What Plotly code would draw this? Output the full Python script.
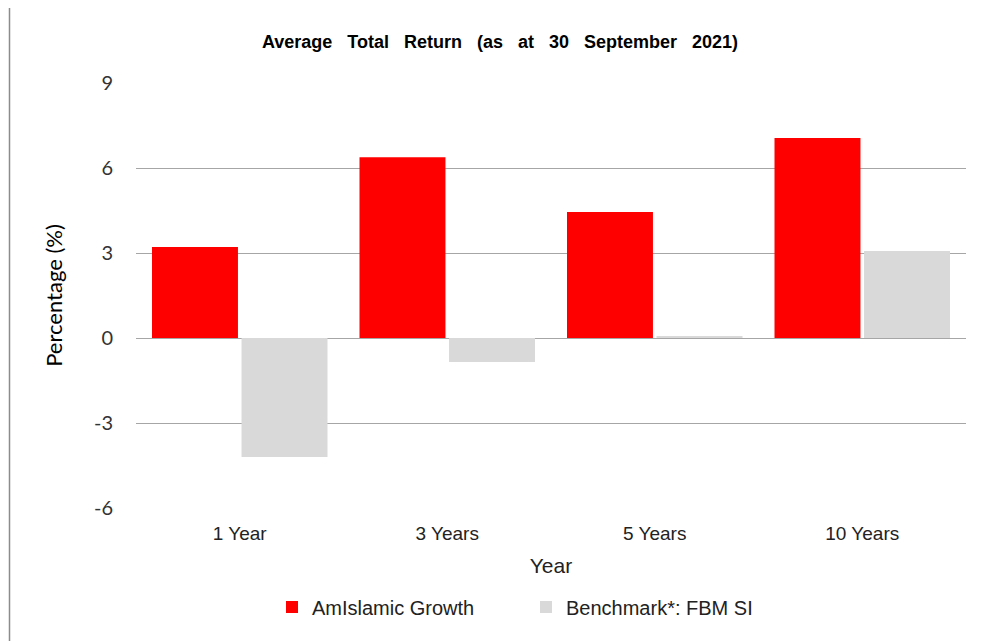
import plotly.graph_objects as go

categories = ["1 Year", "3 Years", "5 Years", "10 Years"]
fund_values = [3.21, 6.38, 4.45, 7.06]
bench_values = [-4.2, -0.85, 0.04, 3.07]
fund_name = "AmIslamic Growth"
bench_name = "Benchmark*: FBM SI"
y_ticks = [-6, -3, 0, 3, 6, 9]

OFF = 8  # page body margin
W, H = 983 - OFF, 641 - OFF
L, T = 136 - OFF, 83 - OFF
pw, ph = 830, 425
R, B = W - L - pw, H - T - ph

def px(x):
    return (x - OFF - L) / pw

def py(y):
    return (T + ph - (y - OFF)) / ph

fig = go.Figure()
fig.add_bar(x=categories, y=fund_values, name=fund_name, marker_color="#ff0000",
            marker_line_width=0)
fig.add_bar(x=categories, y=bench_values, name=bench_name, marker_color="#d9d9d9",
            marker_line_width=0)

fig.update_layout(
    width=W, height=H,
    margin=dict(l=L, r=R, t=T, b=B, autoexpand=False),
    paper_bgcolor="white", plot_bgcolor="white",
    barmode="group", bargap=0.137, bargroupgap=0.04,
    title=dict(text="<b>Average   Total   Return   (as   at   30   September   2021)</b>",
               x=(500 - OFF) / W, xanchor="center", y=1 - (42 - OFF) / H, yanchor="middle",
               font=dict(family="Liberation Sans, Arial", size=18, color="#000")),
    yaxis=dict(range=[-6, 9], tickvals=y_ticks, ticktext=[str(v) for v in y_ticks],
               showgrid=True, gridcolor="#a6a6a6", gridwidth=1.3,
               zeroline=True, zerolinecolor="#a6a6a6", zerolinewidth=1.3,
               showline=False, ticks="outside", ticklen=18, tickcolor="rgba(0,0,0,0)",
               tickfont=dict(family="Lato, Carlito, Calibri", size=20, color="#333"),
               title=dict(text="Percentage (%)", standoff=25,
                          font=dict(family="Lato, Carlito, Calibri", size=22, color="#000"))),
    xaxis=dict(showgrid=False, showline=False, ticks="outside", ticklen=8,
               tickcolor="rgba(0,0,0,0)",
               tickfont=dict(family="Liberation Sans, Arial", size=19, color="#222"),
               title=dict(text="Year", standoff=15,
                          font=dict(family="Liberation Sans, Arial", size=21, color="#222"))),
    legend=dict(orientation="h", x=(287 - OFF - 15) / W, xanchor="left", xref="container",
                y=1 - (607 - OFF) / H, yanchor="middle", yref="container",
                font=dict(family="Liberation Sans, Arial", size=20, color="#222"),
                itemwidth=30, traceorder="normal", entrywidth=209, entrywidthmode="pixels"),
    shapes=[
        dict(type="line", xref="paper", yref="paper", x0=px(9.5), x1=px(9.5), y0=py(5), y1=py(660),
             line=dict(color="#8c8c8c", width=1.5)),
        dict(type="line", xref="paper", yref="paper", x0=px(9.5), x1=px(1000), y0=py(5), y1=py(5),
             line=dict(color="#8c8c8c", width=1.5)),
    ],
)

fig.write_html("out.html")
